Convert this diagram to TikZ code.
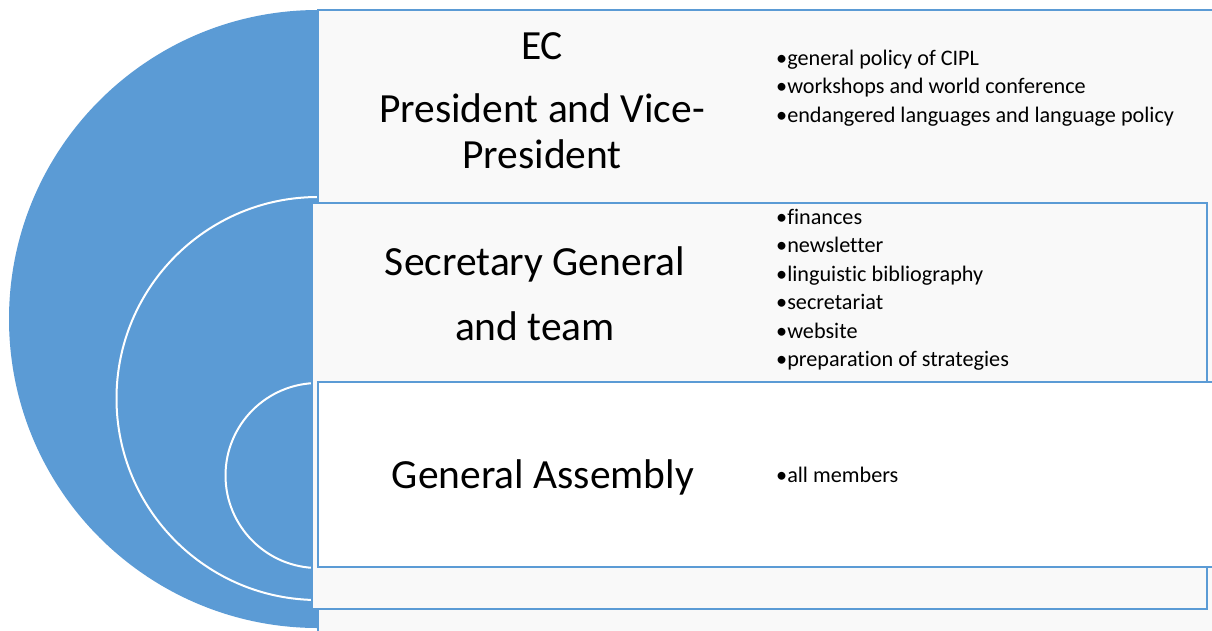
\documentclass[tikz,border=0pt]{standalone}
\usepackage{fontspec}
\setmainfont{Carlito}[Ligatures=NoCommon]
\usepackage{tikz}
\definecolor{ringblue}{HTML}{5B9BD5}
\definecolor{paneltint}{HTML}{F9F9F9}

\begin{document}
\begin{tikzpicture}[x=1pt, y=-1pt]
        % Setup the styles for the rings, panels and texts
        \tikzset{ring style/.style={fill=ringblue,
                                    draw=white,
                                    line width=2pt},
                 panel style/.style={draw=ringblue,
                                     line width=2pt,
                                     fill=paneltint},
                 title style/.style={anchor=base,
                                     font=\fontsize{41.5}{46}\selectfont},
                 item style/.style={anchor=base west,
                                    inner sep=0pt,
                                    font=\fontsize{22.2}{28}\selectfont}}

        \fill[white] (0,0) rectangle (1212,630);
        \useasboundingbox (0,0) rectangle (1212,630);

        % Draw the half rings
        \fill[ringblue] (318,10) arc[start angle=270, end angle=90, radius=309] -- cycle;
        \filldraw[ring style] (318,197) arc[start angle=270, end angle=90, radius=201.5] -- cycle;
        \filldraw[ring style] (318,383) arc[start angle=270, end angle=90, radius=92.5] -- cycle;

        % Draw the panels
        \filldraw[panel style] (318,10) rectangle (1230,650);
        \filldraw[panel style] (312,203) rectangle (1207,609);
        \filldraw[panel style, fill=white] (318,382) rectangle (1214,567);

        % Draw the titles
        \node[title style] at (542,59) (ec) {EC};
        \node[title style] at (542,122) (pres1) {President and Vice-};
        \node[title style] at (542,168) (pres2) {President};
        \node[title style] at (535,275) (sec1) {Secretary General};
        \node[title style] at (535,340) (sec2) {and team};
        \node[title style] at (543,488) (ga) {General Assembly};

        % Draw the tasks
        \node[item style] at (776,65) (ecitem1) {•general policy of CIPL};
        \node[item style] at (776,93.5) (ecitem2) {•workshops and world conference};
        \node[item style] at (776,122) (ecitem3) {•endangered languages and language policy};
        \node[item style] at (776,224.3) (secitem1) {•finances};
        \node[item style] at (776,252.8) (secitem2) {•newsletter};
        \node[item style] at (776,281.3) (secitem3) {•linguistic bibliography};
        \node[item style] at (776,309.8) (secitem4) {•secretariat};
        \node[item style] at (776,338.3) (secitem5) {•website};
        \node[item style] at (776,366.8) (secitem6) {•preparation of strategies};
        \node[item style] at (776,482) (gaitem1) {•all members};
\end{tikzpicture}
\end{document}
